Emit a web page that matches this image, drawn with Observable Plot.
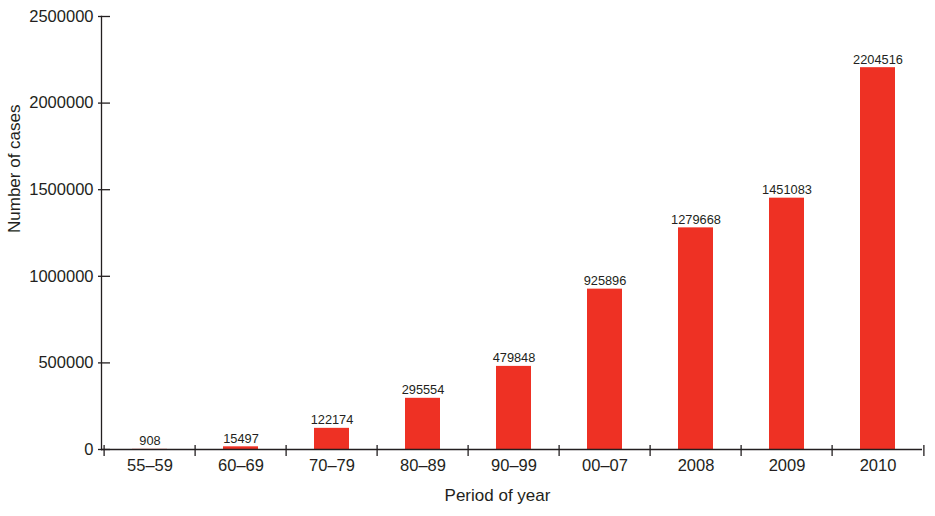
<!DOCTYPE html>
<html>
<head>
<meta charset="utf-8">
<script src="https://cdn.jsdelivr.net/npm/d3@7"></script>
<script src="https://cdn.jsdelivr.net/npm/@observablehq/plot@0.6"></script>
<style>
  html, body { margin: 0; padding: 0; background: #fff; }
  #chart svg { display: block; }
</style>
</head>
<body>
<div id="chart"></div>
<script>
const periods = ["55–59", "60–69", "70–79", "80–89", "90–99", "00–07", "2008", "2009", "2010"];
const cases = [908, 15497, 122174, 295554, 479848, 925896, 1279668, 1451083, 2204516];
const yTicks = [0, 500000, 1000000, 1500000, 2000000, 2500000];
const yTitle = "Number of cases";
const xTitle = "Period of year";

const data = periods.map((p, i) => ({period: p, cases: cases[i]}));

const W = 935, H = 516;
const mL = 101, mR = 8, mT = 16, mB = 67;
const step = (W - mL - mR) / periods.length;
const ink = "#231f20";
const red = "#ee3124";
const font = "'Liberation Sans', Arial, sans-serif";

const chart = Plot.plot({
  width: W,
  height: H,
  marginLeft: mL,
  marginRight: mR,
  marginTop: mT,
  marginBottom: mB,
  style: {fontFamily: font, color: ink, background: "#fff"},
  x: {domain: periods, paddingInner: 0.61, paddingOuter: 0.305, label: null},
  y: {domain: [0, 2500000], label: null},
  marks: [
    Plot.barY(data, {x: "period", y: "cases", fill: red}),
    Plot.text(data, {x: "period", y: "cases", text: d => String(d.cases), lineAnchor: "bottom", dy: -4, fontSize: 12.8, fill: ink}),
    Plot.axisX({tickSize: 0, tickPadding: 10, fontSize: 16.5, fill: ink}),
    Plot.axisY({ticks: yTicks, tickFormat: d => String(d), tickSize: 0, tickPadding: 8, fontSize: 16.5, fill: ink}),
    // y ticks (crossing slightly to the left, mostly inside)
    Plot.ruleY(yTicks, {stroke: ink, strokeWidth: 1.3, insetLeft: -3, insetRight: (W - mL - mR) - 9}),
    // axis lines
    Plot.frame({anchor: "left", stroke: ink, strokeWidth: 1.3}),
    Plot.ruleY([0], {stroke: ink, strokeWidth: 1.3, insetRight: 5}),
    // category boundary ticks
    Plot.ruleX(periods, {x: d => d, y1: 0, y2: 0, dx: -step / 2, insetTop: -4, insetBottom: -7, stroke: ink, strokeWidth: 1.3}),
    Plot.ruleX([periods[periods.length - 1]], {x: d => d, y1: 0, y2: 0, dx: step / 2, insetTop: -4, insetBottom: -7, stroke: ink, strokeWidth: 1.3}),
    // titles
    Plot.text([yTitle], {frameAnchor: "left", dx: -87, rotate: -90, fontSize: 17, fill: ink}),
    Plot.text([xTitle], {frameAnchor: "bottom", dy: 51, dx: -17, fontSize: 17, fill: ink})
  ]
});
document.getElementById("chart").appendChild(chart);
</script>
</body>
</html>
